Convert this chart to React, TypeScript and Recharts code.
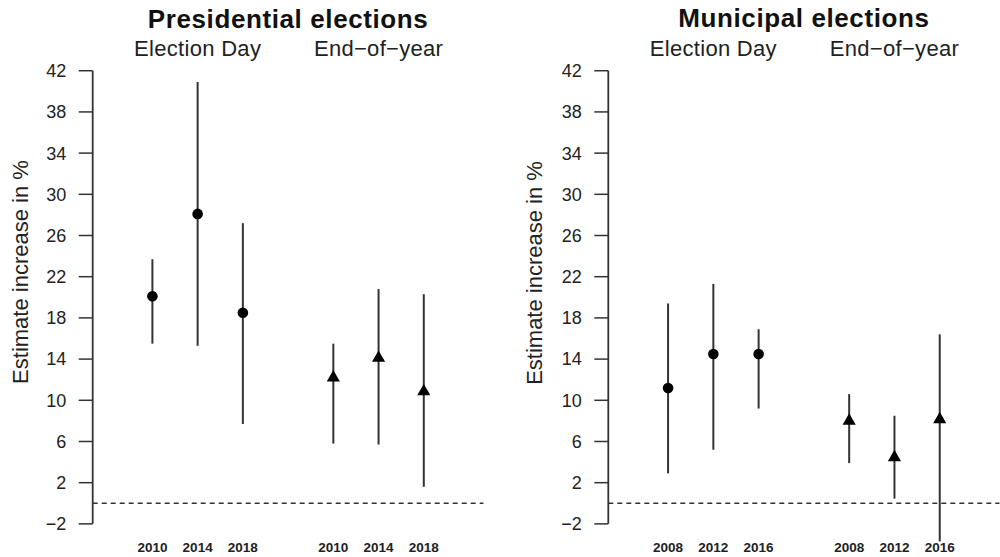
import React from 'react'
import {
  ScatterChart,
  Scatter,
  XAxis,
  YAxis,
  ErrorBar,
  ReferenceLine,
} from 'recharts'

// values (estimate, lower and upper bound of the interval)
const presYears = ['2010', '2014', '2018']
const presDayEst = [20.1, 28.1, 18.5]
const presDayLow = [15.5, 15.3, 7.7]
const presDayHigh = [23.7, 40.9, 27.2]
const presEoyEst = [12.2, 14.1, 10.85]
const presEoyLow = [5.8, 5.7, 1.6]
const presEoyHigh = [15.5, 20.8, 20.3]

const munYears = ['2008', '2012', '2016']
const munDayEst = [11.2, 14.5, 14.5]
const munDayLow = [2.9, 5.2, 9.2]
const munDayHigh = [19.4, 21.3, 16.9]
const munEoyEst = [8.0, 4.45, 8.15]
const munEoyLow = [3.9, 0.45, -3.7]
const munEoyHigh = [10.6, 8.5, 16.4]

const yTicks = [-2, 2, 6, 10, 14, 18, 22, 26, 30, 34, 38, 42]

const DAY_SLOTS = [1, 2, 3]
const EOY_SLOTS = [5, 6, 7]
const X_DOMAIN: [number, number] = [-0.32, 8.32]
const Y_DOMAIN: [number, number] = [-3.76, 43.76]

const FONT = '"Liberation Sans", Arial, Helvetica, sans-serif'
const INK = '#222'
const LINE = '#333'

function rows(slots: number[], est: number[], low: number[], high: number[]) {
  return slots.map((x, i) => ({ x, y: est[i], err: [est[i] - low[i], high[i] - est[i]] }))
}

const Dot = (p: any) => <circle cx={p.cx} cy={p.cy} r={5.3} fill="#000" />

const Tri = (p: any) => {
  const r = 7.6
  const hw = r * 0.866
  return (
    <polygon
      points={`${p.cx},${p.cy - r} ${p.cx + hw},${p.cy + r / 2} ${p.cx - hw},${p.cy + r / 2}`}
      fill="#000"
    />
  )
}

const fmtY = (v: number) => (v < 0 ? '\u2212' + Math.abs(v) : String(v))

interface PanelProps {
  left: number
  title: string
  titleY: number
  years: string[]
  dayEst: number[]
  dayLow: number[]
  dayHigh: number[]
  eoyEst: number[]
  eoyLow: number[]
  eoyHigh: number[]
  marginLeft: number
  marginRight: number
  labelX: number
  labelY: number
}

function Panel(props: PanelProps) {
  const W = 500
  const H = 557
  const yAxisW = 60
  const top = 52.6
  const plotLeft = props.marginLeft + yAxisW
  const plotW = W - plotLeft - props.marginRight
  const sx = (k: number) => plotLeft + ((k - X_DOMAIN[0]) / (X_DOMAIN[1] - X_DOMAIN[0])) * plotW

  const dayRows = rows(DAY_SLOTS, props.dayEst, props.dayLow, props.dayHigh)
  const eoyRows = rows(EOY_SLOTS, props.eoyEst, props.eoyLow, props.eoyHigh)
  const xLabels: Record<number, string> = {}
  DAY_SLOTS.forEach((k, i) => (xLabels[k] = props.years[i]))
  EOY_SLOTS.forEach((k, i) => (xLabels[k] = props.years[i]))

  return (
    <div style={{ position: 'absolute', left: props.left, top: 0, width: W, height: H }}>
      <ScatterChart
        width={W}
        height={H}
        margin={{ top, right: props.marginRight, bottom: 0, left: props.marginLeft }}
      >
        <XAxis
          type="number"
          dataKey="x"
          domain={X_DOMAIN}
          allowDataOverflow
          ticks={[...DAY_SLOTS, ...EOY_SLOTS]}
          tickFormatter={(v) => xLabels[v] ?? ''}
          axisLine={false}
          tickLine={false}
          tickSize={0}
          tickMargin={0}
          height={15}
          interval={0}
          tick={{ fontSize: 13.5, fontWeight: 700, fill: INK, fontFamily: FONT }}
        />
        <YAxis
          type="number"
          dataKey="y"
          domain={Y_DOMAIN}
          allowDataOverflow
          ticks={yTicks}
          interval={0}
          tickFormatter={fmtY}
          width={yAxisW}
          axisLine={false}
          tickSize={14}
          tickMargin={12.5}
          tickLine={{ stroke: LINE, strokeWidth: 1.5 }}
          tick={{ fontSize: 18, fill: INK, fontFamily: FONT }}
        />
        <ReferenceLine
          segment={[
            { x: X_DOMAIN[0], y: -2 },
            { x: X_DOMAIN[0], y: 42 },
          ]}
          stroke={LINE}
          strokeWidth={1.8}
          ifOverflow="visible"
        />
        <ReferenceLine y={0} stroke={LINE} strokeWidth={1.5} strokeDasharray="5 4" />
        <Scatter data={dayRows} shape={Dot} isAnimationActive={false}>
          <ErrorBar dataKey="err" direction="y" width={0} stroke={LINE} strokeWidth={2} />
        </Scatter>
        <Scatter data={eoyRows} shape={Tri} isAnimationActive={false}>
          <ErrorBar dataKey="err" direction="y" width={0} stroke={LINE} strokeWidth={2} />
        </Scatter>
      </ScatterChart>
      <svg
        width={W}
        height={H}
        style={{ position: 'absolute', left: 0, top: 0, pointerEvents: 'none' }}
        fontFamily={FONT}
      >
        <text
          x={plotLeft + plotW / 2}
          y={props.titleY}
          textAnchor="middle"
          fontSize={26}
          fontWeight={700}
          letterSpacing={0.6}
          fill="#111"
        >
          {props.title}
        </text>
        <text x={sx(2)} y={55.5} textAnchor="middle" fontSize={22} letterSpacing={0.3} fill={INK}>
          Election Day
        </text>
        <text x={sx(6)} y={55.5} textAnchor="middle" fontSize={22} letterSpacing={0.3} fill={INK}>
          End{'\u2212'}of{'\u2212'}year
        </text>
        <text
          x={props.labelX}
          y={props.labelY}
          textAnchor="middle"
          fontSize={22}
          fill={INK}
          transform={`rotate(-90 ${props.labelX} ${props.labelY})`}
        >
          Estimate increase in %
        </text>
      </svg>
    </div>
  )
}

export default function App() {
  return (
    <div
      style={{
        position: 'absolute',
        left: 0,
        top: 0,
        width: 1000,
        height: 557,
        background: '#fff',
        overflow: 'hidden',
      }}
    >
      <Panel
        left={0}
        title="Presidential elections"
        titleY={27.5}
        years={presYears}
        dayEst={presDayEst}
        dayLow={presDayLow}
        dayHigh={presDayHigh}
        eoyEst={presEoyEst}
        eoyLow={presEoyLow}
        eoyHigh={presEoyHigh}
        marginLeft={32.7}
        marginRight={16.5}
        labelX={28}
        labelY={272}
      />
      <Panel
        left={500}
        title="Municipal elections"
        titleY={27}
        years={munYears}
        dayEst={munDayEst}
        dayLow={munDayLow}
        dayHigh={munDayHigh}
        eoyEst={munEoyEst}
        eoyLow={munEoyLow}
        eoyHigh={munEoyHigh}
        marginLeft={48.3}
        marginRight={0.5}
        labelX={41.7}
        labelY={273}
      />
    </div>
  )
}
